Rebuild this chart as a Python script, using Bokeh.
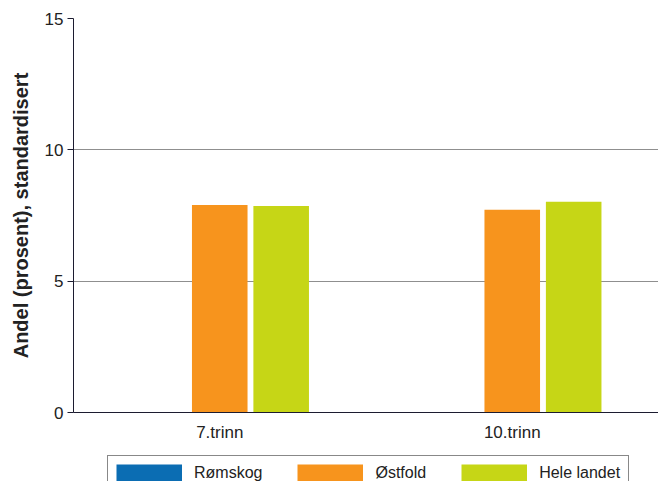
from bokeh.plotting import figure
from bokeh.layouts import column
from bokeh.models import FactorRange, Legend, LegendItem, ColumnDataSource, FixedTicker
from bokeh.transform import dodge
from bokeh.embed import file_html
from bokeh.resources import INLINE

categories = ["7.trinn", "10.trinn"]
series_names = ["Rømskog", "Østfold", "Hele landet"]
romskog = [0.0, 0.0]
ostfold = [7.9, 7.72]
hele_landet = [7.86, 8.02]
y_ticks = [0, 5, 10, 15]

colors = ["#0B6DB3", "#F7941D", "#C6D616"]
FONT = "Liberation Sans"

source = ColumnDataSource(data=dict(cat=categories, romskog=romskog,
                                    ostfold=ostfold, hele=hele_landet))

p = figure(x_range=FactorRange(*categories, range_padding=0), y_range=(0, 15),
           width=658, height=453,
           output_backend="svg", toolbar_location=None,
           min_border_left=73, min_border_right=0, min_border_top=18,
           min_border_bottom=41)

cols = ["romskog", "ostfold", "hele"]
offsets = [-0.21, 0.0, 0.21]
for col, off, c in zip(cols, offsets, colors):
    p.vbar(x=dodge("cat", off, range=p.x_range), top=col, width=0.19,
           source=source, fill_color=c, line_color=None)

p.outline_line_color = None
p.xgrid.grid_line_color = None
p.ygrid.grid_line_color = "#8f8f8f"
p.ygrid.grid_line_width = 1

p.yaxis.ticker = FixedTicker(ticks=y_ticks)
p.yaxis.axis_label = "Andel (prosent), standardisert"
p.yaxis.axis_label_text_font = FONT
p.yaxis.axis_label_text_font_style = "bold"
p.yaxis.axis_label_text_font_size = "20px"
p.yaxis.axis_label_text_color = "#222222"
p.yaxis.axis_label_standoff = 10
p.yaxis.major_label_text_font = FONT
p.yaxis.major_label_text_font_size = "17px"
p.yaxis.major_label_text_color = "#222222"
p.yaxis.major_label_standoff = 4
p.yaxis.major_tick_out = 6
p.yaxis.major_tick_in = 0
p.yaxis.minor_tick_line_color = None
p.yaxis.axis_line_color = "#1c1c30"
p.yaxis.major_tick_line_color = "#1c1c30"

p.xaxis.major_label_text_font = FONT
p.xaxis.major_label_text_font_size = "17px"
p.xaxis.major_label_text_color = "#222222"
p.xaxis.major_tick_line_color = None
p.xaxis.major_tick_out = 0
p.xaxis.major_label_standoff = 10
p.xaxis.axis_line_color = "#1c1c30"

# legend strip below the chart (its frame is aligned with the chart frame)
lg = figure(width=658, height=28, x_range=(0, 1), y_range=(0, 1),
            output_backend="svg", toolbar_location=None,
            x_axis_location=None, y_axis_location=None,
            min_border_left=0, min_border_right=0, min_border_top=0, min_border_bottom=0)
lg.outline_line_color = None
lg.grid.visible = False
items = []
for name, c in zip(series_names, colors):
    r = lg.line(x=[5, 6], y=[5, 5], line_width=18, line_color=c, line_cap="butt")
    items.append(LegendItem(label=name, renderers=[r]))

legend = Legend(items=items, orientation="horizontal", location=(34, -10),
                border_line_color="#111111", border_line_width=1,
                padding=8, spacing=35, margin=0,
                glyph_width=66, glyph_height=18, label_standoff=12,
                label_text_font=FONT, label_text_font_size="16px",
                label_text_color="#222222")
lg.add_layout(legend, "center")

layout = column(p, lg, spacing=0)
open("out.html", "w").write(file_html(layout, INLINE))
